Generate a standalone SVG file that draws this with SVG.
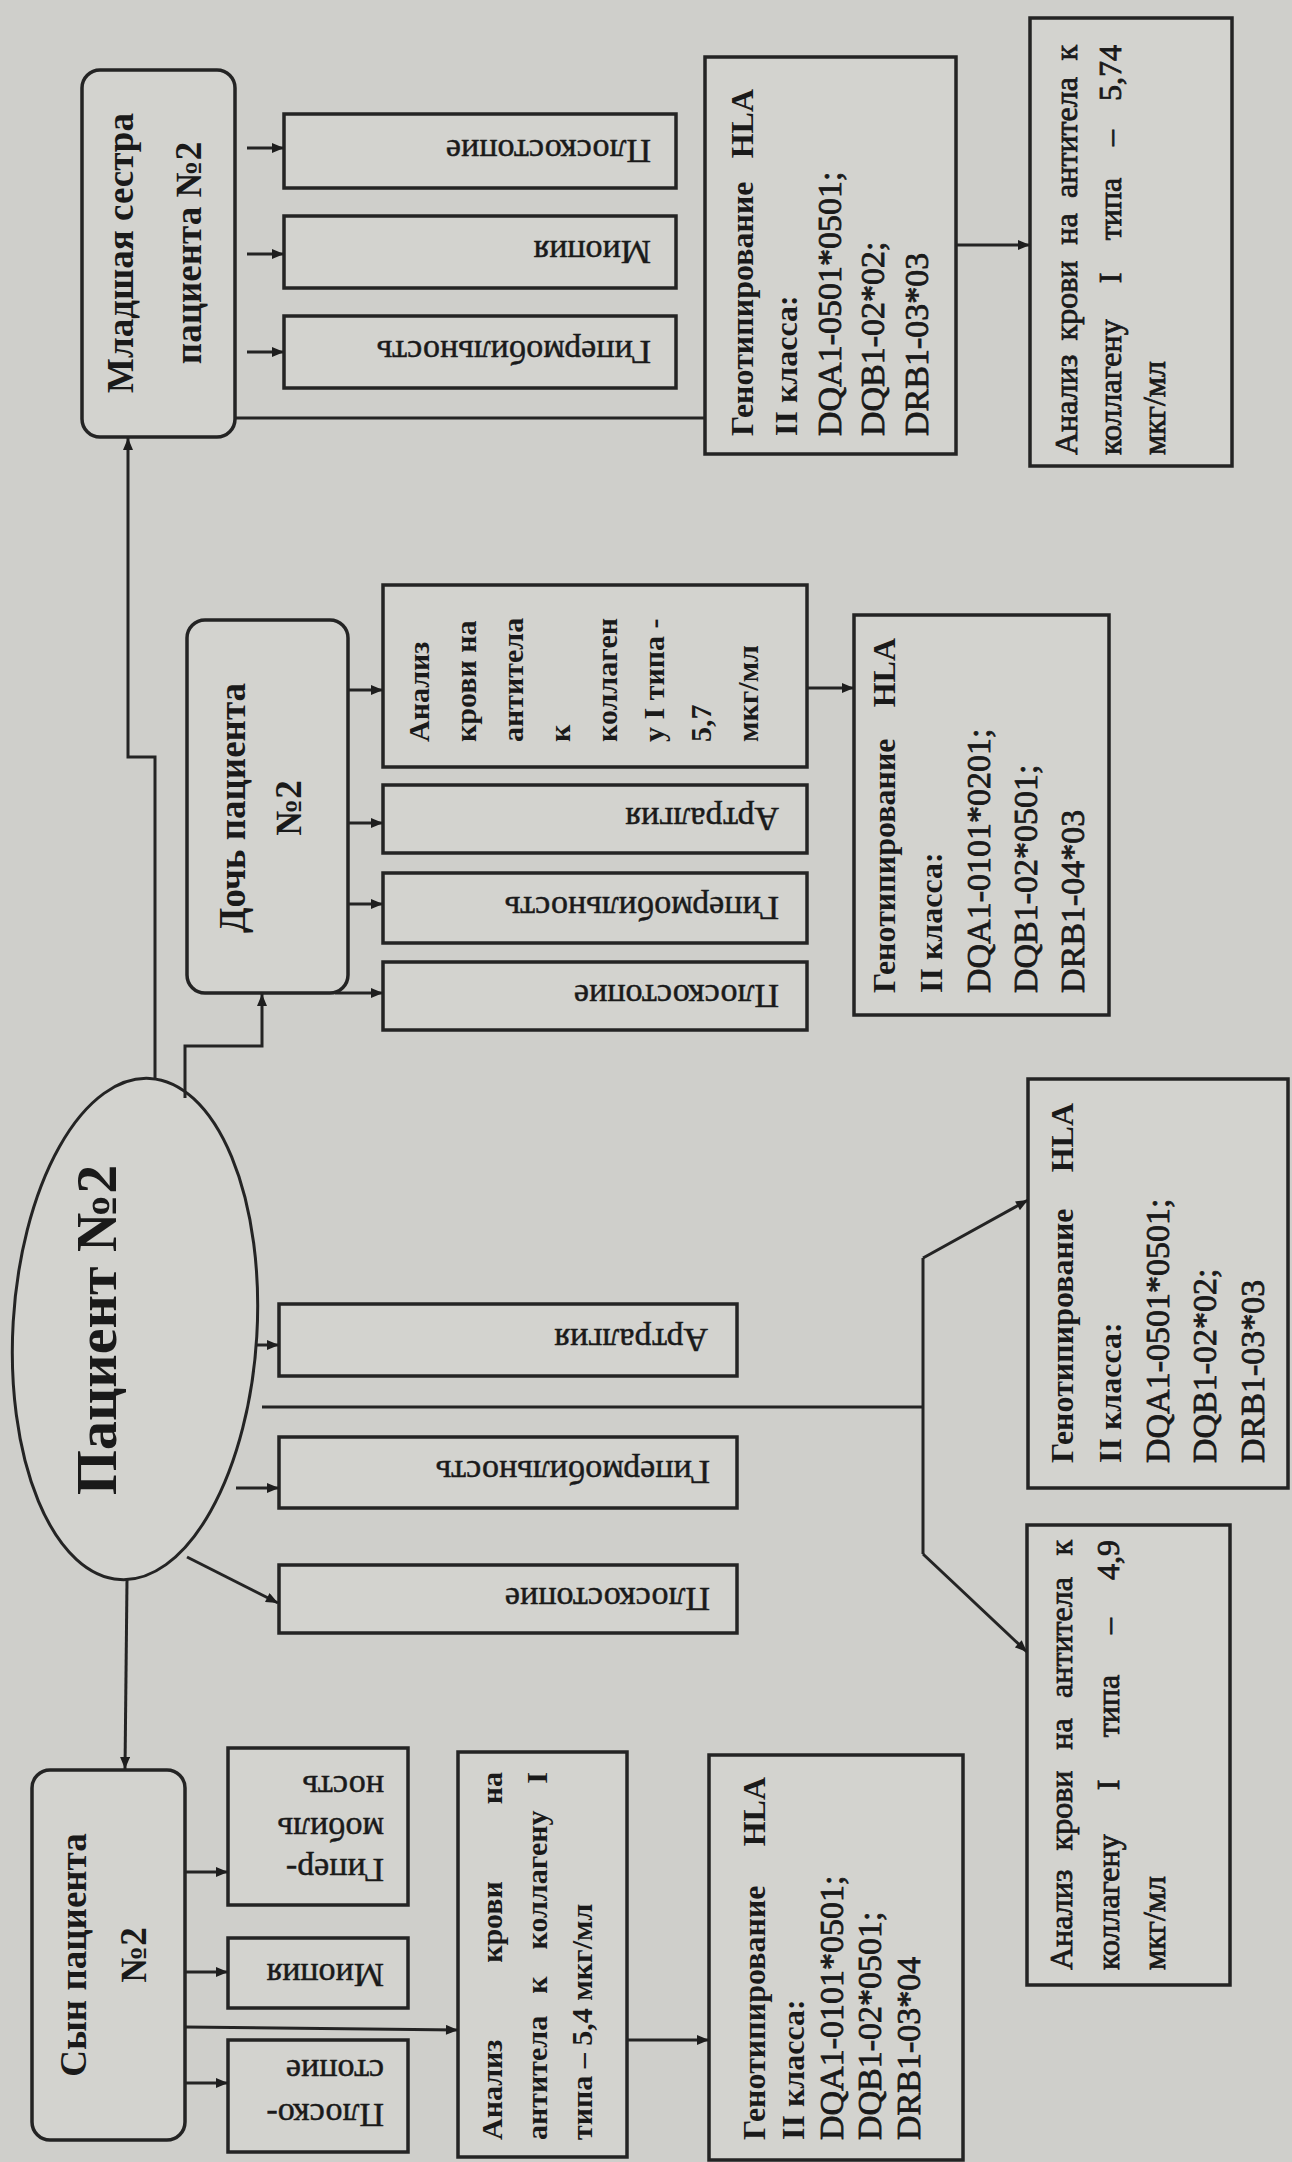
<svg xmlns="http://www.w3.org/2000/svg" width="1292" height="2162" viewBox="0 0 1292 2162">
<defs>
<marker id="ah" viewBox="0 0 12 10" refX="12" refY="5" markerWidth="13" markerHeight="10" markerUnits="userSpaceOnUse" orient="auto"><path d="M0,0 L12,5 L0,10 z" fill="#1e1e1e"/></marker>
<style>
.bg{fill:#cfcfcb}
.box{fill:#d3d3cf;stroke:#242424;stroke-width:3.5}
.ln{fill:none;stroke:#242424;stroke-width:3}
.ar{fill:none;stroke:#242424;stroke-width:3;marker-end:url(#ah)}
text{font-family:"Liberation Serif","Times New Roman",serif;fill:#1a1a1a;dominant-baseline:central}
.t{font-size:37px;font-weight:bold;text-anchor:middle}
.main{font-size:58px;font-weight:bold;text-anchor:middle}
.s{font-size:34px;stroke:#1a1a1a;stroke-width:0.5}
.g{font-size:32px;font-weight:bold}
.g2{font-size:34px;font-weight:normal;stroke:#1a1a1a;stroke-width:0.8}
.a{font-size:30px;font-weight:bold}
.a2{font-size:32px;font-weight:normal;stroke:#1a1a1a;stroke-width:0.8}
.mid{text-anchor:middle}
.end{text-anchor:end}
</style>
</defs>
<rect class="bg" x="0" y="0" width="1292" height="2162"/>

<g id="sister">
<rect class="box" x="82" y="70" width="153" height="367" rx="18"/>
<g transform="translate(0,253) rotate(-90)">
<text class="t" x="0" y="120">Младшая сестра</text>
<text class="t" x="0" y="188">пациента №2</text>
</g>
</g>
<g id="sister-flatfoot"><rect class="box" x="284" y="114" width="392" height="74"/><text class="s" transform="translate(651,151) rotate(180)">Плоскостопие</text></g>
<g id="sister-myopia"><rect class="box" x="284" y="216" width="392" height="72"/><text class="s" transform="translate(651,252) rotate(180)">Миопия</text></g>
<g id="sister-hypermobility"><rect class="box" x="284" y="316" width="392" height="72"/><text class="s" transform="translate(651,352) rotate(180)">Гипермобильность</text></g>
<g id="sister-hla">
<rect class="box" x="705" y="57" width="251" height="397"/>
<g transform="translate(0,436) rotate(-90)">
<text class="g" x="0" y="742">Генотипирование</text><text class="g end" x="347" y="742">HLA</text>
<text class="g" x="0" y="785.5">II класса:</text>
<text class="g2" x="0" y="829">DQA1-0501*0501;</text>
<text class="g2" x="0" y="872.5">DQB1-02*02;</text>
<text class="g2" x="0" y="916">DRB1-03*03</text>
</g>
</g>
<g id="sister-analysis">
<rect class="box" x="1030" y="18" width="202" height="448"/>
<g transform="translate(0,455) rotate(-90)">
<text class="a2" x="0" y="1066">Анализ</text><text class="a2 mid" x="154.5" y="1066">крови</text><text class="a2 mid" x="226" y="1066">на</text><text class="a2 mid" x="317.5" y="1066">антитела</text><text class="a2 end" x="410" y="1066">к</text>
<text class="a2" x="0" y="1110">коллагену</text><text class="a2 mid" x="177" y="1110">I</text><text class="a2 mid" x="246" y="1110">типа</text><text class="a2 mid" x="317" y="1110">–</text><text class="a2 end" x="410" y="1110">5,74</text>
<text class="a2" x="0" y="1154">мкг/мл</text>
</g>
</g>

<g id="daughter">
<rect class="box" x="187" y="620" width="161" height="373" rx="18"/>
<g transform="translate(0,808) rotate(-90)">
<text class="t" x="0" y="232">Дочь пациента</text>
<text class="t" x="0" y="288">№2</text>
</g>
</g>
<g id="daughter-analysis">
<rect class="box" x="383" y="585" width="424" height="182"/>
<g transform="translate(0,742) rotate(-90)">
<text class="a" x="0" y="418">Анализ</text>
<text class="a" x="0" y="465">крови на</text>
<text class="a" x="0" y="512">антитела</text>
<text class="a" x="0" y="559">к</text>
<text class="a" x="0" y="606">коллаген</text>
<text class="a" x="0" y="653">у I типа -</text>
<text class="a" x="0" y="700">5,7</text>
<text class="a" x="0" y="747">мкг/мл</text>
</g>
</g>
<g id="daughter-arthralgia"><rect class="box" x="383" y="785" width="424" height="68"/><text class="s" transform="translate(779,819) rotate(180)">Артралгия</text></g>
<g id="daughter-hypermobility"><rect class="box" x="383" y="873" width="424" height="70"/><text class="s" transform="translate(779,908) rotate(180)">Гипермобильность</text></g>
<g id="daughter-flatfoot"><rect class="box" x="383" y="962" width="424" height="68"/><text class="s" transform="translate(779,996) rotate(180)">Плоскостопие</text></g>
<g id="daughter-hla">
<rect class="box" x="854" y="615" width="255" height="400"/>
<g transform="translate(0,993) rotate(-90)">
<text class="g" x="0" y="884">Генотипирование</text><text class="g end" x="355" y="884">HLA</text>
<text class="g" x="0" y="931">II класса:</text>
<text class="g2" x="0" y="978">DQA1-0101*0201;</text>
<text class="g2" x="0" y="1025">DQB1-02*0501;</text>
<text class="g2" x="0" y="1072">DRB1-04*03</text>
</g>
</g>

<g id="patient">
<ellipse cx="135" cy="1329" rx="122" ry="251" transform="rotate(3.4 135 1329)" fill="#d3d3cf" stroke="#242424" stroke-width="3"/>
<text class="main" transform="translate(96,1330) rotate(-90)">Пациент №2</text>
</g>
<g id="patient-arthralgia"><rect class="box" x="279" y="1304" width="458" height="72"/><text class="s" transform="translate(708,1340) rotate(180)">Артралгия</text></g>
<g id="patient-hypermobility"><rect class="box" x="279" y="1437" width="458" height="71"/><text class="s" transform="translate(710,1472) rotate(180)">Гипермобильность</text></g>
<g id="patient-flatfoot"><rect class="box" x="279" y="1565" width="458" height="68"/><text class="s" transform="translate(710,1599) rotate(180)">Плоскостопие</text></g>
<g id="patient-hla">
<rect class="box" x="1028" y="1079" width="260" height="409"/>
<g transform="translate(0,1463) rotate(-90)">
<text class="g" x="0" y="1062">Генотипирование</text><text class="g end" x="360" y="1062">HLA</text>
<text class="g" x="0" y="1109.5">II класса:</text>
<text class="g2" x="0" y="1157">DQA1-0501*0501;</text>
<text class="g2" x="0" y="1204.5">DQB1-02*02;</text>
<text class="g2" x="0" y="1252">DRB1-03*03</text>
</g>
</g>
<g id="patient-analysis">
<rect class="box" x="1027" y="1525" width="203" height="460"/>
<g transform="translate(0,1970) rotate(-90)">
<text class="a2" x="0" y="1061">Анализ</text><text class="a2 mid" x="159.5" y="1061">крови</text><text class="a2 mid" x="236" y="1061">на</text><text class="a2 mid" x="332.5" y="1061">антитела</text><text class="a2 end" x="430" y="1061">к</text>
<text class="a2" x="0" y="1108">коллагену</text><text class="a2 mid" x="185" y="1108">I</text><text class="a2 mid" x="264" y="1108">типа</text><text class="a2 mid" x="344" y="1108">–</text><text class="a2 end" x="430" y="1108">4,9</text>
<text class="a2" x="0" y="1154">мкг/мл</text>
</g>
</g>

<g id="son">
<rect class="box" x="32" y="1770" width="153" height="370" rx="18"/>
<g transform="translate(0,1955) rotate(-90)">
<text class="t" x="0" y="73">Сын пациента</text>
<text class="t" x="0" y="133">№2</text>
</g>
</g>
<g id="son-hypermobility"><rect class="box" x="228" y="1748" width="180" height="157"/>
<g transform="translate(384,0) rotate(180)">
<text class="s" x="0" y="-1870">Гипер-</text>
<text class="s" x="0" y="-1829">мобиль</text>
<text class="s" x="0" y="-1787">ность</text>
</g></g>
<g id="son-myopia"><rect class="box" x="228" y="1938" width="180" height="70"/><text class="s" transform="translate(384,1975) rotate(180)">Миопия</text></g>
<g id="son-flatfoot"><rect class="box" x="228" y="2040" width="180" height="112"/>
<g transform="translate(384,0) rotate(180)">
<text class="s" x="0" y="-2115">Плоско-</text>
<text class="s" x="0" y="-2071">стопие</text>
</g></g>
<g id="son-analysis">
<rect class="box" x="458" y="1752" width="169" height="405"/>
<g transform="translate(0,2140) rotate(-90)">
<text class="a" x="0" y="491">Анализ</text><text class="a mid" x="218" y="491">крови</text><text class="a end" x="368" y="491">на</text>
<text class="a" x="0" y="536">антитела</text><text class="a mid" x="155" y="536">к</text><text class="a mid" x="260" y="536">коллагену</text><text class="a end" x="368" y="536">I</text>
<text class="a" x="0" y="581">типа – 5,4 мкг/мл</text>
</g>
</g>
<g id="son-hla">
<rect class="box" x="709" y="1755" width="254" height="405"/>
<g transform="translate(0,2140) rotate(-90)">
<text class="g" x="0" y="754">Генотипирование</text><text class="g end" x="363" y="754">HLA</text>
<text class="g" x="0" y="792.5">II класса:</text>
<text class="g2" x="0" y="831">DQA1-0101*0501;</text>
<text class="g2" x="0" y="869.5">DQB1-02*0501;</text>
<text class="g2" x="0" y="908">DRB1-03*04</text>
</g>
</g>

<g id="connectors">
<polyline class="ar" points="155,1079 155,757 128,757 128,438"/>
<polyline class="ar" points="185,1098 185,1046 262,1046 262,994"/>
<line class="ar" x1="127" y1="1580" x2="125" y2="1769"/>
<line class="ar" x1="247" y1="148" x2="284" y2="148"/>
<line class="ar" x1="247" y1="254" x2="284" y2="254"/>
<line class="ar" x1="247" y1="352" x2="284" y2="352"/>
<line class="ln" x1="235" y1="418" x2="705" y2="418"/>
<line class="ar" x1="956" y1="245" x2="1030" y2="245"/>
<line class="ar" x1="348" y1="690" x2="383" y2="690"/>
<line class="ar" x1="348" y1="823" x2="383" y2="823"/>
<line class="ar" x1="348" y1="904" x2="383" y2="904"/>
<line class="ar" x1="335" y1="993" x2="383" y2="993"/>
<line class="ar" x1="807" y1="688" x2="854" y2="688"/>
<line class="ar" x1="257" y1="1345" x2="279" y2="1345"/>
<line class="ar" x1="236" y1="1488" x2="279" y2="1488"/>
<line class="ar" x1="187" y1="1557" x2="278" y2="1603"/>
<line class="ln" x1="262" y1="1407" x2="923" y2="1407"/>
<line class="ln" x1="923" y1="1258" x2="923" y2="1554"/>
<line class="ar" x1="923" y1="1258" x2="1028" y2="1200"/>
<line class="ar" x1="923" y1="1554" x2="1027" y2="1652"/>
<line class="ar" x1="185" y1="1872" x2="228" y2="1872"/>
<line class="ar" x1="185" y1="1972" x2="228" y2="1972"/>
<line class="ar" x1="185" y1="2083" x2="228" y2="2083"/>
<line class="ar" x1="185" y1="2027" x2="458" y2="2030"/>
<line class="ar" x1="627" y1="2040" x2="709" y2="2040"/>
</g>
</svg>
